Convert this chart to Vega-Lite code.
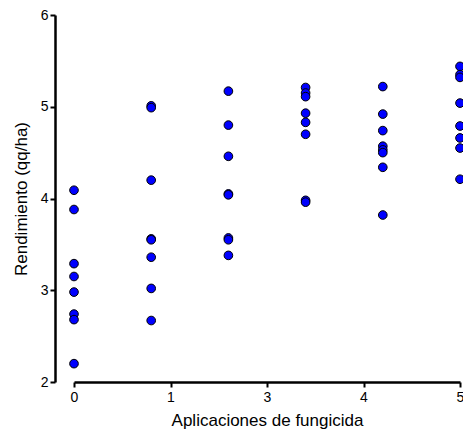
{
  "$schema": "https://vega.github.io/schema/vega-lite/v6.json",
  "width": 386,
  "height": 367,
  "autosize": {"type": "none"},
  "padding": {"left": 74, "top": 15, "right": 3, "bottom": 54},
  "background": "white",
  "config": {
    "view": {"stroke": null},
    "font": "Liberation Sans",
    "axis": {
      "grid": false,
      "domainColor": "black",
      "domainWidth": 2.5,
      "tickColor": "black",
      "tickWidth": 2,
      "tickSize": 5,
      "labelColor": "black",
      "titleColor": "black",
      "labelFont": "Liberation Sans",
      "titleFont": "Liberation Sans",
      "labelFontSize": 14,
      "titleFontSize": 17,
      "titleFontWeight": "normal"
    }
  },
  "data": {
    "values": [
      {"aplicaciones": 0, "rendimiento": 4.09},
      {"aplicaciones": 0, "rendimiento": 3.88},
      {"aplicaciones": 0, "rendimiento": 3.29},
      {"aplicaciones": 0, "rendimiento": 3.15},
      {"aplicaciones": 0, "rendimiento": 2.98},
      {"aplicaciones": 0, "rendimiento": 2.74},
      {"aplicaciones": 0, "rendimiento": 2.68},
      {"aplicaciones": 0, "rendimiento": 2.2},
      {"aplicaciones": 1, "rendimiento": 5.01},
      {"aplicaciones": 1, "rendimiento": 4.99},
      {"aplicaciones": 1, "rendimiento": 4.2},
      {"aplicaciones": 1, "rendimiento": 3.56},
      {"aplicaciones": 1, "rendimiento": 3.55},
      {"aplicaciones": 1, "rendimiento": 3.36},
      {"aplicaciones": 1, "rendimiento": 3.02},
      {"aplicaciones": 1, "rendimiento": 2.67},
      {"aplicaciones": 2, "rendimiento": 5.17},
      {"aplicaciones": 2, "rendimiento": 4.8},
      {"aplicaciones": 2, "rendimiento": 4.46},
      {"aplicaciones": 2, "rendimiento": 4.05},
      {"aplicaciones": 2, "rendimiento": 4.04},
      {"aplicaciones": 2, "rendimiento": 3.57},
      {"aplicaciones": 2, "rendimiento": 3.55},
      {"aplicaciones": 2, "rendimiento": 3.38},
      {"aplicaciones": 3, "rendimiento": 5.21},
      {"aplicaciones": 3, "rendimiento": 5.15},
      {"aplicaciones": 3, "rendimiento": 5.11},
      {"aplicaciones": 3, "rendimiento": 4.93},
      {"aplicaciones": 3, "rendimiento": 4.83},
      {"aplicaciones": 3, "rendimiento": 4.7},
      {"aplicaciones": 3, "rendimiento": 3.98},
      {"aplicaciones": 3, "rendimiento": 3.96},
      {"aplicaciones": 4, "rendimiento": 5.22},
      {"aplicaciones": 4, "rendimiento": 4.92},
      {"aplicaciones": 4, "rendimiento": 4.74},
      {"aplicaciones": 4, "rendimiento": 4.57},
      {"aplicaciones": 4, "rendimiento": 4.53},
      {"aplicaciones": 4, "rendimiento": 4.5},
      {"aplicaciones": 4, "rendimiento": 4.34},
      {"aplicaciones": 4, "rendimiento": 3.82},
      {"aplicaciones": 5, "rendimiento": 5.44},
      {"aplicaciones": 5, "rendimiento": 5.35},
      {"aplicaciones": 5, "rendimiento": 5.32},
      {"aplicaciones": 5, "rendimiento": 5.04},
      {"aplicaciones": 5, "rendimiento": 4.79},
      {"aplicaciones": 5, "rendimiento": 4.66},
      {"aplicaciones": 5, "rendimiento": 4.55},
      {"aplicaciones": 5, "rendimiento": 4.21}
    ]
  },
  "mark": {"type": "point", "shape": "circle", "filled": true, "fill": "#0000ff", "stroke": "black", "strokeWidth": 1, "size": 75, "opacity": 1, "clip": false},
  "encoding": {
    "x": {
      "field": "aplicaciones",
      "type": "quantitative",
      "scale": {"domain": [0, 5], "nice": false, "zero": false},
      "axis": {
        "title": "Aplicaciones de fungicida",
        "values": [0, 1.25, 2.5, 3.75, 5],
        "format": ".0f",
        "labelPadding": 3,
        "titlePadding": 8,
        "labelFlush": false,
        "labelOverlap": false
      }
    },
    "y": {
      "field": "rendimiento",
      "type": "quantitative",
      "scale": {"domain": [2, 6], "nice": false, "zero": false},
      "axis": {
        "title": "Rendimiento (qq/ha)",
        "values": [2, 3, 4, 5, 6],
        "offset": 19,
        "labelPadding": 2,
        "titlePadding": 10,
        "labelFlush": false,
        "labelOverlap": false
      }
    }
  }
}
